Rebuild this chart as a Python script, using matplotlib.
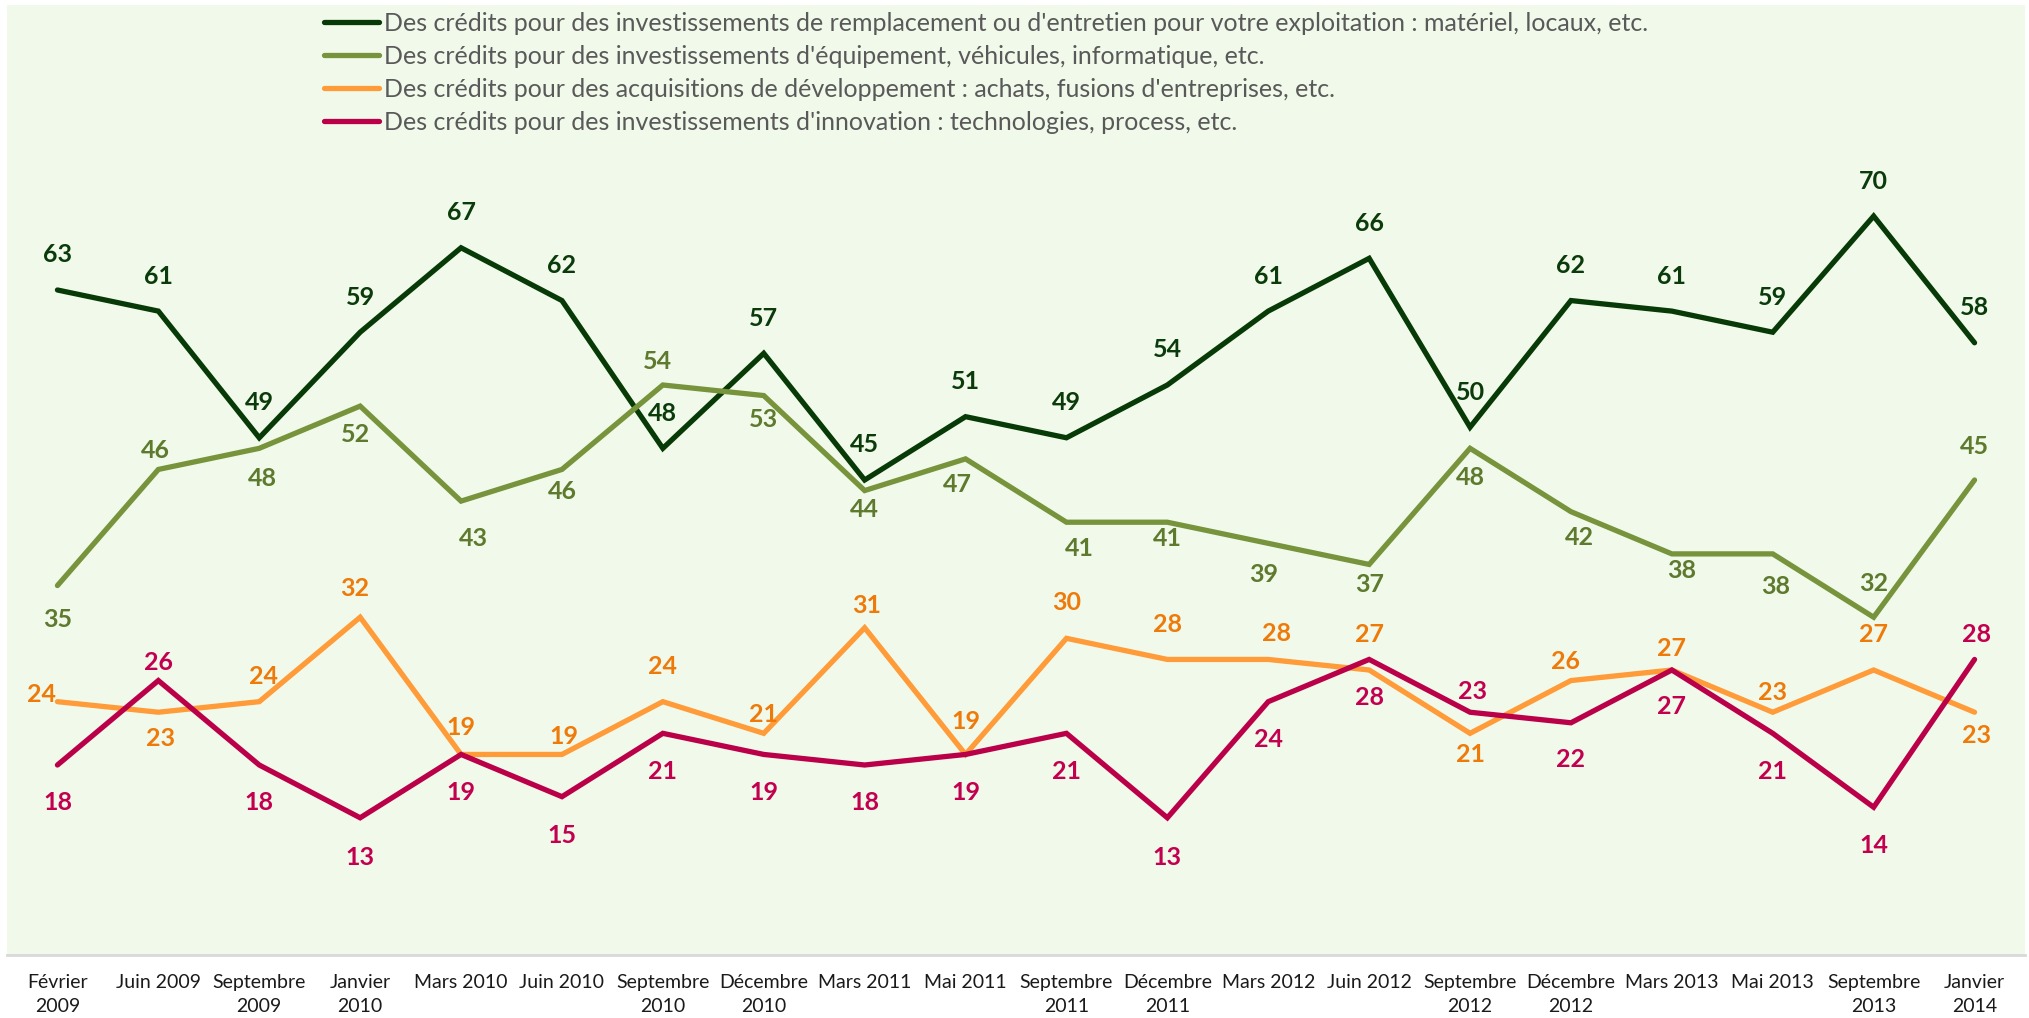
import matplotlib
matplotlib.use("Agg")
import matplotlib.pyplot as plt

# ---------------- data ----------------
categories = ["Février\n2009", "Juin 2009", "Septembre\n2009", "Janvier\n2010", "Mars 2010",
              "Juin 2010", "Septembre\n2010", "Décembre\n2010", "Mars 2011", "Mai 2011",
              "Septembre\n2011", "Décembre\n2011", "Mars 2012", "Juin 2012", "Septembre\n2012",
              "Décembre\n2012", "Mars 2013", "Mai 2013", "Septembre\n2013", "Janvier\n2014"]

series_names = [
    "Des crédits pour des investissements de remplacement ou d'entretien pour votre exploitation : matériel, locaux, etc.",
    "Des crédits pour des investissements d'équipement, véhicules, informatique, etc.",
    "Des crédits pour des acquisitions de développement : achats, fusions d'entreprises, etc.",
    "Des crédits pour des investissements d'innovation : technologies, process, etc.",
]

remplacement = [63, 61, 49, 59, 67, 62, 48, 57, 45, 51, 49, 54, 61, 66, 50, 62, 61, 59, 70, 58]
equipement   = [35, 46, 48, 52, 43, 46, 54, 53, 44, 47, 41, 41, 39, 37, 48, 42, 38, 38, 32, 45]
acquisitions = [24, 23, 24, 32, 19, 19, 24, 21, 31, 19, 30, 28, 28, 27, 21, 26, 27, 23, 27, 23]
innovation   = [18, 26, 18, 13, 19, 15, 21, 19, 18, 19, 21, 13, 24, 28, 23, 22, 27, 21, 14, 28]

# ---------------- styles ----------------
line_colors  = ["#073A07", "#77933C", "#FF9B38", "#BA0049"]
label_colors = ["#0B3B0B", "#5E7A2E", "#EE7A0A", "#C2004F"]

# label offsets in image pixels (dx right, dy down)
off_remplacement = [(0, -35)] * 20
off_equipement = [(0, 34), (-3, -19), (3, 30), (-5, 28), (12, 37), (0, 22), (-5, -23), (0, 24),
                  (0, 19), (-8, 26), (13, 26), (0, 16), (-5, 31), (0, 20), (0, 29), (8, 26),
                  (10, 17), (3, 33), (0, -34), (0, -34)]
off_acquisitions = [(-16, -7), (2, 26), (4, -25), (-6, -29), (0, -27), (2, -18), (0, -35), (0, -19),
                    (2, -22), (0, -33), (0, -36), (0, -35), (8, -26), (0, -35), (0, 21), (-5, -19),
                    (0, -22), (0, -20), (0, -35), (2, 23)]
off_innovation = [(0, 38), (0, -18), (0, 38), (0, 40), (0, 38), (0, 39), (0, 38), (0, 38),
                  (0, 38), (0, 38), (0, 38), (0, 40), (0, 38), (0, 38), (2, -21), (0, 37),
                  (0, 37), (0, 38), (0, 38), (2, -25)]

FONT = ["Lato", "DejaVu Sans"]
plt.rcParams["font.family"] = FONT

W, H = 2029, 1018
fig = plt.figure(figsize=(W / 100, H / 100), dpi=100, facecolor="white")
ax = fig.add_axes([7 / W, 63 / H, 2018 / W, 950 / H])
ax.set_facecolor("#F1FAEA")

x = list(range(len(categories)))
all_series = [remplacement, equipement, acquisitions, innovation]
all_offsets = [off_remplacement, off_equipement, off_acquisitions, off_innovation]

lines = []
for i, (vals, name) in enumerate(zip(all_series, series_names)):
    ln, = ax.plot(x, vals, color=line_colors[i], lw=3.8, solid_joinstyle="miter",
                  solid_capstyle="round", label=name, zorder=2 + i)
    lines.append(ln)

for i, (vals, offs) in enumerate(zip(all_series, all_offsets)):
    for xi, v, (dx, dy) in zip(x, vals, offs):
        ax.annotate(str(v), (xi, v), xytext=(dx, -dy), textcoords="offset pixels",
                    ha="center", va="center", fontsize=18, fontweight="bold",
                    color=label_colors[i], zorder=10, annotation_clip=False)

ax.set_xlim(-0.5, len(categories) - 0.5)
ax.set_ylim(0, 90)
ax.set_xticks(x)
ax.set_xticklabels(categories, fontsize=14, color="#1a1a1a", linespacing=1.5)
ax.tick_params(axis="x", length=0, pad=14)
ax.set_yticks([])
for s in ["top", "left", "right"]:
    ax.spines[s].set_visible(False)
ax.spines["bottom"].set_color("#D9D9D9")
ax.spines["bottom"].set_linewidth(2)

leg = ax.legend(handles=lines, loc="upper left", bbox_to_anchor=(317 / W, 1 - 5 / H),
                bbox_transform=fig.transFigure, frameon=False, fontsize=18,
                handlelength=2.2, handletextpad=0.2, labelspacing=0.4, borderpad=0.27,
                borderaxespad=0)
for t in leg.get_texts():
    t.set_color("#595959")
for h in leg.legend_handles:
    h.set_linewidth(3.8)
    h.set_solid_capstyle("round")

fig.savefig("out.png", dpi=100, facecolor="white")
